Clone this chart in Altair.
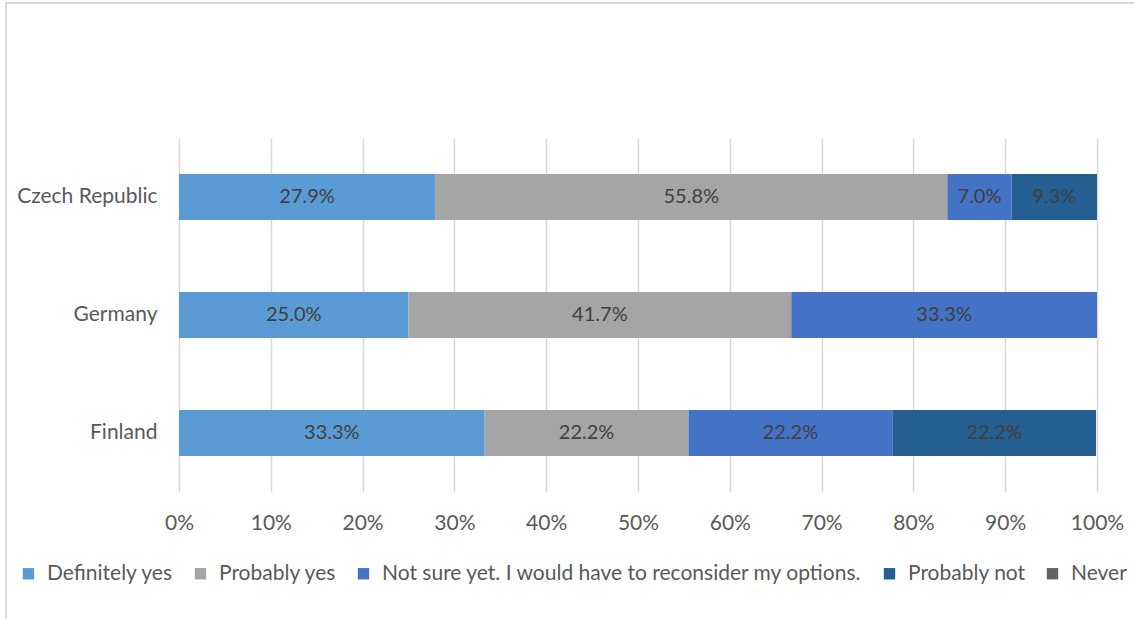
import altair as alt
import pandas as pd

countries = ["Czech Republic", "Germany", "Finland"]
answers = ["Definitely yes", "Probably yes",
           "Not sure yet. I would have to reconsider my options.",
           "Probably not", "Never"]
colors = ["#5B9BD5", "#A5A5A5", "#4472C4", "#255E91", "#636363"]
czech = [27.9, 55.8, 7.0, 9.3, 0.0]
germany = [25.0, 41.7, 33.3, 0.0, 0.0]
finland = [33.3, 22.2, 22.2, 22.2, 0.0]

rows = []
for c, vals in zip(countries, [czech, germany, finland]):
    for i, (a, v) in enumerate(zip(answers, vals)):
        rows.append({"country": c, "answer": a, "order": i, "value": v})
df = pd.DataFrame(rows)

FONT = "Lato"
AXC = "#595959"

base = alt.Chart(df).transform_stack(
    stack="value", groupby=["country"], as_=["x0", "x1"],
    sort=[alt.SortField("order", order="ascending")]
).transform_calculate(mid="(datum.x0 + datum.x1) / 2", lab="datum.value / 100")

y = alt.Y("country:N", sort=countries, title=None,
          scale=alt.Scale(paddingInner=0.61, paddingOuter=0.305),
          axis=alt.Axis(domain=False, ticks=False, labelPadding=22,
                        labelFontSize=21, labelColor=AXC, labelFont=FONT,
                        grid=False))

bars = base.mark_bar().encode(
    x=alt.X("x0:Q", scale=alt.Scale(domain=[0, 100], nice=False),
            title=None,
            axis=alt.Axis(values=list(range(0, 101, 10)),
                          labelExpr="datum.value + '%'",
                          domain=False, ticks=False, grid=True,
                          gridColor="#d9d9d9", gridWidth=1.5,
                          labelFlush=False,
                          labelPadding=20, labelFontSize=21,
                          labelColor=AXC, labelFont=FONT)),
    x2="x1:Q",
    y=y,
    color=alt.Color("answer:N", sort=answers,
                    scale=alt.Scale(domain=answers, range=colors),
                    legend=alt.Legend(title=None, orient="none",
                                      direction="horizontal",
                                      legendX=-161, legendY=425,
                                      padding=0,
                                      symbolType="square", symbolSize=130,
                                      symbolStrokeWidth=0,
                                      labelFontSize=21, labelFont=FONT,
                                      labelLimit=0,
                                      labelColor=AXC, columnPadding=16,
                                      labelOffset=8, columns=5)),
)

text = base.transform_filter("datum.value > 0").mark_text(
    fontSize=20, font=FONT, color="#404040"
).encode(
    x=alt.X("mid:Q"),
    y=alt.Y("country:N", sort=countries),
    text=alt.Text("lab:Q", format=".1%"),
)

frame_left = alt.Chart(df).mark_rule(color="#d9d9d9", strokeWidth=2).encode(
    x=alt.value(-173), y=alt.value(-135), y2=alt.value(481))
frame_top = alt.Chart(df).mark_rule(color="#d9d9d9", strokeWidth=2).encode(
    x=alt.value(-174), x2=alt.value(955), y=alt.value(-135))

chart = alt.layer(bars, text, frame_left, frame_top).properties(
    width=918, height=354,
    padding={"left": 179, "top": 138, "right": 37, "bottom": 127},
    autosize=alt.AutoSizeParams(type="none"),
).configure_view(stroke=None)

chart.save("out.html", embed_options={"renderer": "svg", "actions": False})
